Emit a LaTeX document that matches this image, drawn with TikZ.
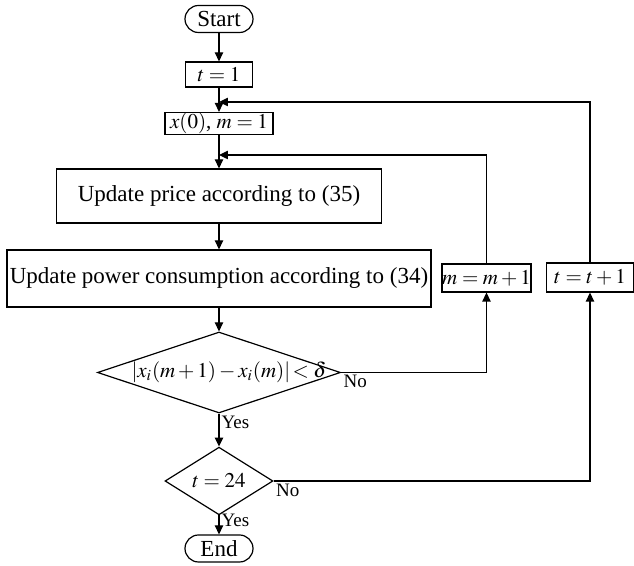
\documentclass[tikz,border=0pt]{standalone}
\usepackage{mathptmx}
\usepackage{fontspec}
\setmainfont{Liberation Serif}
\usetikzlibrary{shapes.geometric,arrows.meta}

\begin{document}
\begin{tikzpicture}[x=0.5pt,y=-0.5pt,line width=0.6pt,
  >={Triangle[length=4.5pt,width=4.2pt]},
  every node/.style={font=\fontsize{11.5}{13}\selectfont},
  mathtext/.style={font=\fontsize{10.5}{12}\selectfont},
  terminal/.style={draw,rectangle,rounded corners=6.75pt,minimum width=34pt,minimum height=13.5pt,inner sep=0pt},
  process/.style={draw,rectangle,inner sep=0pt},
  decision/.style={draw,diamond,inner sep=0pt},
  branch/.style={font=\fontsize{9.5}{11}\selectfont,inner sep=1pt}]
\useasboundingbox (0,0) rectangle (634,566);

\node[terminal] (start) at (219,19) {Start};
\node[process,mathtext,minimum width=33.5pt,minimum height=12.5pt] (tone) at (219,74.5) {$t=1$};
\node[process,mathtext,minimum width=54pt,minimum height=11pt] (init) at (219,123.5) {$x(0)$, $m=1$};
\node[process,minimum width=162.5pt,minimum height=27pt] (price) at (219,196) {Update price according to (35)};
\node[process,minimum width=212pt,minimum height=28.5pt] (power) at (219,278.5) {Update power consumption according to (34)};
\node[process,mathtext,minimum width=44.5pt,minimum height=14pt] (mstep) at (486.5,278) {$m=m+1$};
\node[process,mathtext,minimum width=43.5pt,minimum height=14.5pt] (tstep) at (590,277.5) {$t=t+1$};
\node[decision,minimum width=121.5pt,minimum height=40.5pt] (check) at (219,372.5) {};
\node[mathtext] (checktext) at ([xshift=5pt]check.center) {$|x_i(m+1)-x_i(m)|\!<\delta$};
\node[decision,mathtext,minimum width=54pt,minimum height=27pt] (tcheck) at (219,481) {$t=24$};
\node[terminal] (end) at (219,548.5) {End};

\node[branch,anchor=north west] (yesm) at (check.south) {Yes};
\node[branch,anchor=north west] (nom) at (check.east) {No};
\node[branch,anchor=north west] (yest) at ([yshift=2pt]tcheck.south) {Yes};
\node[branch,anchor=north west] (not) at (tcheck.east) {No};

\coordinate (tjoin) at (219,102);
\coordinate (mjoin) at (219,155);

\draw[->] (start) -- (tone);
\draw[->] (tone) -- (init);
\draw[->] (init) -- (price);
\draw[->] (price) -- (power);
\draw[->] (power) -- (check);
\draw[->] (check) -- (tcheck);
\draw[->] (tcheck) -- (end);

\draw[->] (check.east) -| (mstep.south);
\draw[->] (tcheck.east) -| (tstep.south);
\draw[->] (mstep.north) |- (mjoin);
\draw[->] (tstep.north) |- (tjoin);
\end{tikzpicture}
\end{document}
